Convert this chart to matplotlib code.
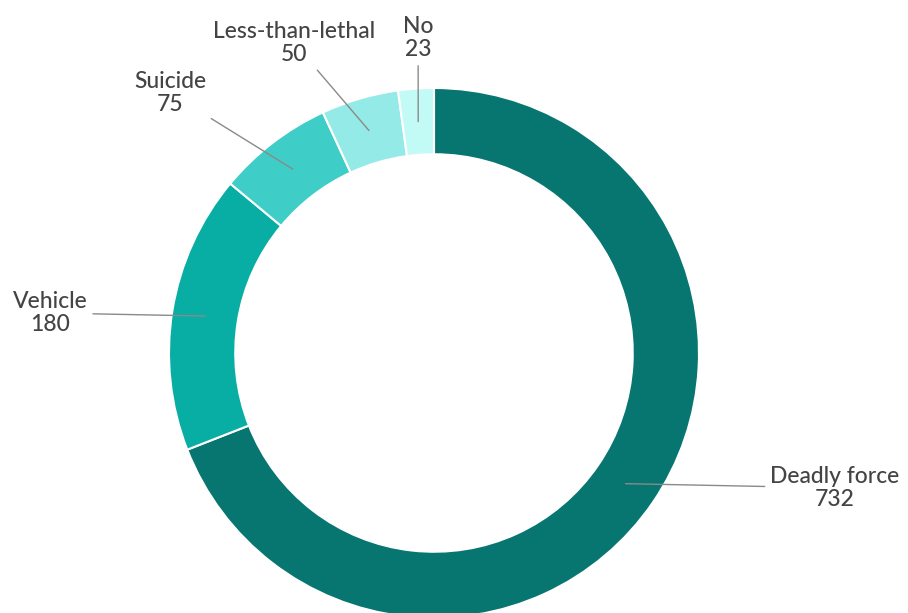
import matplotlib
matplotlib.use("Agg")
import matplotlib.pyplot as plt
import numpy as np

# dati del grafico
categorie = ["Deadly force", "Vehicle", "Suicide", "Less-than-lethal", "No"]
valori = [732, 180, 75, 50, 23]
colori = ["#077670", "#08ADA4", "#3ECDC7", "#93EAE6", "#C2FBF6"]

# posizione delle etichette (coordinate dati, raggio esterno = 1)
pos_etichette = [(1.513, -0.509), (-1.449, 0.151), (-0.996, 0.981),
                 (-0.528, 1.170), (-0.060, 1.189)]

plt.rcParams['font.family'] = ['Lato', 'DejaVu Sans']

fig = plt.figure(figsize=(9.08, 6.13), dpi=100)
ax = fig.add_axes([0, 0, 1, 1])

larghezza = 0.25
wedges, _ = ax.pie(valori, colors=colori, startangle=90, counterclock=False,
                   radius=1, wedgeprops=dict(width=larghezza, edgecolor='white', linewidth=1.5))

r_mid = 1 - larghezza / 2
for w, cat, val, pos in zip(wedges, categorie, valori, pos_etichette):
    ang = np.deg2rad((w.theta1 + w.theta2) / 2)
    xy = (r_mid * np.cos(ang), r_mid * np.sin(ang))
    ax.annotate(f"{cat}\n{val}", xy=xy, xytext=pos, ha='center', va='center',
                fontsize=16.5, color='#444444', linespacing=1.15, fontweight='medium',
                arrowprops=dict(arrowstyle='-', color='#8a8a8a', lw=1,
                                shrinkA=2, shrinkB=0))

# centro (434, 353) px, raggio 265 px
ax.set_xlim((0 - 434) / 265, (908 - 434) / 265)
ax.set_ylim((353 - 613) / 265, 353 / 265)
ax.set_aspect('equal')
ax.axis('off')

fig.savefig("out.png", dpi=100)
